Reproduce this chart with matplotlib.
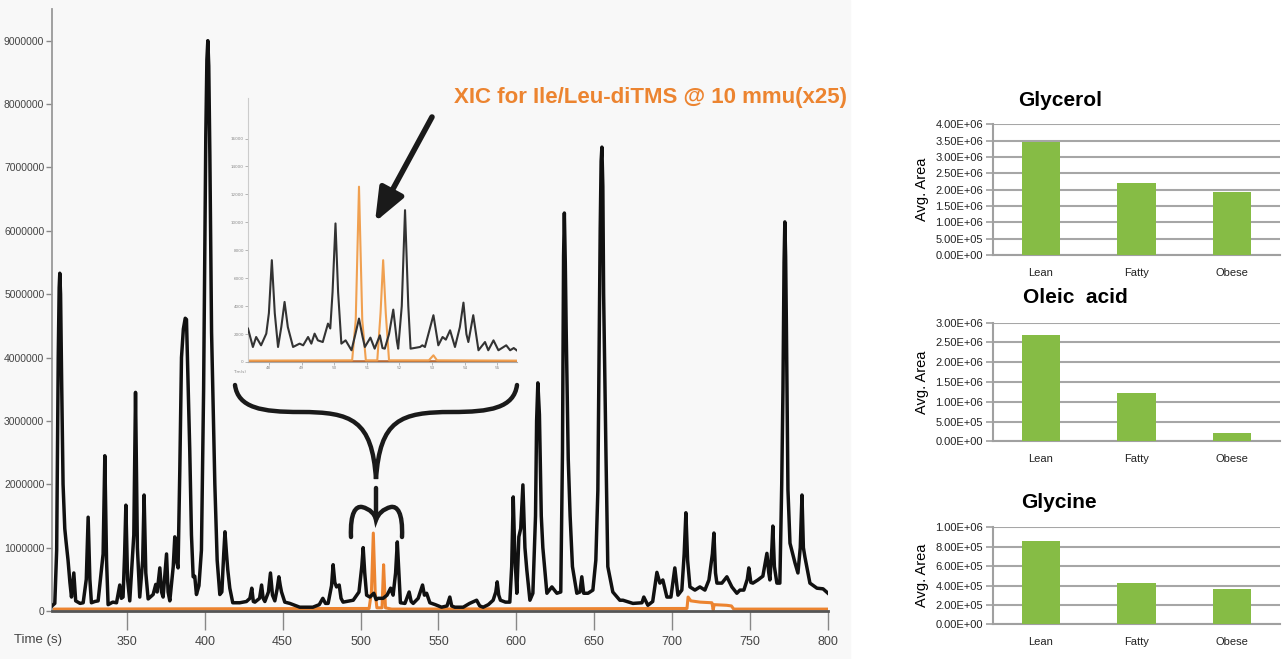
import numpy as np
import matplotlib.pyplot as plt
from matplotlib.path import Path
from matplotlib.patches import PathPatch, Rectangle


# TIC trace, time (s) and intensity (millions of counts)
tic_time = [302.0, 303.8, 305.0, 306.0, 306.6, 307.0, 307.5, 308.2, 309.1, 310.2, 311.0, 312.3,
            313.5, 314.5, 316.0, 317.2, 320.0, 322.0, 324.0, 325.2, 326.3, 327.3, 329.5, 331.6,
            334.8, 335.9, 337.0, 338.0, 341.0, 343.4, 345.5, 346.5, 347.6, 348.6, 349.4, 350.5,
            351.9, 354.5, 355.6, 356.8, 358.3, 360.2, 361.1, 362.2, 363.7, 366.9, 368.6, 369.5,
            371.2, 372.3, 373.3, 375.5, 376.5, 377.6, 379.8, 380.8, 381.8, 382.9, 384.0, 385.1,
            386.3, 387.5, 388.3, 389.3, 390.4, 391.5, 392.6, 393.6, 394.7, 396.3, 397.9, 399.3,
            400.7, 401.4, 402.0, 402.6, 403.3, 404.4, 406.5, 408.0, 409.7, 411.0, 412.2, 413.0,
            414.0, 414.8, 416.1, 418.0, 422.5, 426.8, 429.0, 430.2, 431.2, 432.2, 435.2, 436.5,
            437.5, 438.6, 440.9, 442.2, 443.5, 445.0, 446.5, 447.6, 448.5, 449.3, 451.4, 454.6,
            461.0, 469.4, 473.5, 475.8, 477.5, 479.2, 481.4, 482.4, 483.5, 484.6, 486.3, 487.5,
            488.8, 495.3, 499.0, 500.8, 501.7, 502.7, 503.9, 506.0, 508.5, 510.0, 511.3, 514.5,
            517.0, 519.3, 520.9, 522.5, 523.6, 524.6, 525.6, 528.5, 531.2, 532.5, 533.8, 537.0,
            539.8, 541.0, 542.4, 544.5, 548.0, 552.0, 555.5, 557.3, 558.5, 560.5, 565.9, 570.0,
            574.5, 576.5, 578.7, 582.0, 585.1, 586.8, 587.7, 588.7, 589.8, 593.0, 595.8, 597.0,
            598.0, 599.0, 600.3, 601.6, 602.8, 604.2, 605.5, 606.7, 608.7, 610.6, 612.3, 613.0,
            613.8, 614.8, 616.0, 617.0, 619.6, 622.8, 626.0, 628.5, 629.6, 630.3, 630.8, 631.4,
            632.0, 633.3, 634.5, 636.0, 638.8, 640.8, 642.0, 643.2, 646.0, 649.1, 651.0, 652.3,
            653.8, 654.4, 654.9, 655.5, 656.0, 657.5, 658.7, 661.9, 666.4, 668.4, 674.8, 680.6,
            681.8, 684.4, 687.5, 690.2, 692.1, 694.0, 696.6, 699.2, 701.7, 703.7, 706.2, 707.7,
            708.8, 709.9, 711.4, 714.6, 717.8, 721.0, 723.6, 725.8, 726.8, 727.8, 728.7, 731.9,
            735.1, 738.3, 741.5, 743.5, 746.0, 748.2, 749.2, 750.5, 751.8, 755.0, 758.2, 760.8,
            762.0, 762.7, 764.0, 764.6, 765.6, 767.2, 769.1, 770.3, 771.1, 771.8, 772.3, 772.8,
            773.3, 774.3, 775.6, 778.8, 780.7, 782.2, 783.3, 784.2, 785.2, 788.4, 792.9, 796.8,
            800.0]
tic_int = [0.08, 0.12, 0.96, 4.0, 5.1, 5.33, 5.0, 3.6, 2.0, 1.3, 1.1, 0.8,
           0.45, 0.22, 0.6, 0.16, 0.12, 0.13, 0.5, 1.48, 0.5, 0.13, 0.15, 0.16,
           0.9, 2.45, 0.8, 0.1, 0.14, 0.13, 0.41, 0.2, 0.22, 0.9, 1.67, 0.5,
           0.16, 1.2, 3.45, 1.0, 0.22, 0.8, 1.83, 0.6, 0.19, 0.26, 0.42, 0.3,
           0.68, 0.3, 0.22, 0.9, 0.3, 0.16, 0.7, 1.17, 0.8, 0.68, 2.2, 4.0,
           4.45, 4.62, 4.6, 3.6, 2.54, 1.2, 0.54, 0.55, 0.26, 0.4, 0.96, 3.5,
           7.5, 8.7, 9.0, 8.6, 7.2, 4.4, 2.0, 0.8, 0.26, 0.3, 0.9, 1.25,
           0.9, 0.65, 0.36, 0.13, 0.13, 0.15, 0.2, 0.36, 0.15, 0.14, 0.2, 0.41,
           0.2, 0.15, 0.3, 0.6, 0.25, 0.16, 0.35, 0.54, 0.4, 0.3, 0.14, 0.12,
           0.06, 0.06, 0.1, 0.2, 0.12, 0.12, 0.4, 0.73, 0.45, 0.38, 0.41, 0.2,
           0.14, 0.17, 0.3, 0.7, 1.0, 0.6, 0.25, 0.22, 0.28, 0.18, 0.2, 0.2,
           0.25, 0.36, 0.25, 0.6, 1.09, 0.6, 0.13, 0.12, 0.3, 0.15, 0.12, 0.2,
           0.41, 0.25, 0.28, 0.13, 0.1, 0.06, 0.08, 0.22, 0.08, 0.06, 0.06, 0.12,
           0.17, 0.08, 0.06, 0.1, 0.17, 0.3, 0.46, 0.25, 0.17, 0.14, 0.14, 0.7,
           1.8, 0.9, 0.28, 1.17, 1.3, 1.99, 1.0, 0.65, 0.17, 0.28, 1.5, 3.0,
           3.6, 3.1, 1.5, 1.0, 0.28, 0.38, 0.28, 0.3, 2.5, 5.6, 6.28, 5.5,
           4.4, 2.4, 1.5, 0.7, 0.28, 0.3, 0.54, 0.28, 0.28, 0.33, 0.8, 1.9,
           6.0, 7.1, 7.32, 6.7, 5.0, 2.49, 0.7, 0.3, 0.17, 0.17, 0.12, 0.13,
           0.22, 0.09, 0.15, 0.61, 0.44, 0.49, 0.22, 0.22, 0.68, 0.25, 0.33, 0.9,
           1.55, 0.8, 0.38, 0.33, 0.38, 0.33, 0.49, 0.9, 1.23, 0.6, 0.44, 0.44,
           0.54, 0.38, 0.28, 0.33, 0.33, 0.5, 0.68, 0.45, 0.44, 0.49, 0.55, 0.91,
           0.6, 0.49, 1.0, 1.34, 0.7, 0.44, 0.44, 2.0, 3.5, 5.5, 6.14, 5.6,
           4.5, 1.91, 1.07, 0.76, 0.6, 1.0, 1.83, 1.0, 0.85, 0.44, 0.36, 0.35,
           0.28]

# XIC trace for Ile/Leu-diTMS (x25)
xic_time = [302.0, 505.5, 507.0, 508.2, 509.4, 510.5, 513.8, 514.8, 515.2, 516.0, 520.0,
            709.5, 710.2, 712.0, 718.0, 725.5, 726.3, 727.0, 735.0, 738.0, 739.5, 800.0]
xic_int = [0.03, 0.04, 0.3, 1.23, 0.3, 0.05, 0.05, 0.73, 0.5, 0.05, 0.03,
           0.04, 0.22, 0.16, 0.14, 0.13, 0.02, 0.1, 0.09, 0.08, 0.03, 0.03]

# zoomed inset, both traces
ins_time = [47.36, 47.51, 47.61, 47.76, 47.92, 48.0, 48.09, 48.18, 48.28, 48.38, 48.48, 48.58,
            48.74, 48.94, 49.05, 49.2, 49.3, 49.4, 49.5, 49.65, 49.81, 49.88, 49.95, 50.04,
            50.12, 50.22, 50.35, 50.53, 50.65, 50.76, 50.87, 50.94, 51.11, 51.24, 51.4, 51.48,
            51.55, 51.68, 51.81, 51.92, 51.96, 52.07, 52.17, 52.27, 52.34, 52.63, 52.7, 52.78,
            53.04, 53.19, 53.32, 53.42, 53.55, 53.7, 53.85, 53.96, 54.05, 54.11, 54.26, 54.42,
            54.62, 54.72, 54.88, 55.03, 55.27, 55.39, 55.5, 55.59]
ins_int = [2390, 1075, 1790, 1195, 2030, 3500, 7290, 3500, 1075, 2500, 4300, 2500,
           1075, 1315, 1195, 1790, 1315, 2030, 1550, 1430, 2750, 2400, 5000, 9920,
           5000, 1315, 1550, 840, 2000, 3110, 1800, 1075, 1745, 955, 1910, 1000,
           955, 2000, 3750, 1500, 955, 4000, 10870, 4000, 955, 1075, 1195, 1075,
           3350, 1195, 1790, 1600, 2270, 1075, 2500, 4250, 2000, 1430, 3350, 840,
           1430, 840, 1550, 840, 1195, 840, 1000, 840]
ins_xic_time = [47.36, 50.55, 50.66, 50.76, 50.86, 50.97, 51.32, 51.42, 51.5, 51.58, 51.68,
                52.9, 53.04, 53.15, 55.59]
ins_xic_int = [100, 120, 3000, 12550, 3000, 120, 120, 3500, 7290, 3500, 120,
               120, 480, 120, 100]

# bar panels
groups = ['Lean', 'Fatty', 'Obese']
glycerol = [3.47e6, 2.20e6, 1.92e6]
oleic = [2.69e6, 1.23e6, 0.22e6]
glycine = [0.863e6, 0.423e6, 0.364e6]

W, H = 1283, 659
BLACK = '#111111'
ORANGE = '#ec8430'
GREEN = '#86bc45'
SANS = 'Liberation Sans'


def rect(left, top, right, bottom):
    # pixel box (y down) -> figure fraction
    return [left / W, 1 - bottom / H, (right - left) / W, (bottom - top) / H]


fig = plt.figure(figsize=(W / 100, H / 100), dpi=100)
fig.patches.append(Rectangle((0, 0), 850 / W, 1, transform=fig.transFigure,
                             color='#f8f8f8', zorder=-5))

# main chromatogram
ax = fig.add_axes(rect(52, 9, 828, 611))
ax.set_facecolor('none')
ax.plot(xic_time, np.array(xic_int) * 1e6, color=ORANGE, lw=2.2, zorder=2)
ax.plot(tic_time, np.array(tic_int) * 1e6, color=BLACK, lw=2.5, zorder=3,
        solid_joinstyle='round')
ax.set_xlim(302, 800)
ax.set_ylim(0, 9.5e6)
ax.set_yticks(np.arange(0, 9.1e6, 1e6))
ax.set_yticklabels(['0'] + ['%d' % v for v in np.arange(1000000, 9000001, 1000000)],
                   family=SANS, fontsize=7.5, color='#444444')
ax.set_xticks(np.arange(350, 801, 50))
ax.set_xticklabels([str(v) for v in range(350, 801, 50)],
                   family=SANS, fontsize=9, color='#444444')
ax.tick_params(axis='y', length=4, width=1, color='#888888', pad=1.5)
ax.tick_params(axis='x', length=14, width=1, color='#888888', pad=4)
for s in ['top', 'right']:
    ax.spines[s].set_visible(False)
ax.spines['left'].set_color('#999999')
ax.spines['left'].set_linewidth(1.3)
ax.spines['bottom'].set_color('#555555')
ax.spines['bottom'].set_linewidth(2)
fig.text(38 / W, 1 - 640 / H, 'Time (s)', family=SANS, fontsize=9.5,
         color='#444444', ha='center', va='center')

# inset zoom
ins = fig.add_axes(rect(248, 98, 517, 362))
ins.set_facecolor('none')
ins.plot(ins_xic_time, ins_xic_int, color='#f0a050', lw=1.5, zorder=2)
ins.plot(ins_time, ins_int, color='#333333', lw=1.5, zorder=3, solid_joinstyle='round')
ins.axhline(60, color='#b8642a', lw=1.8, zorder=1)
ins.set_xlim(47.36, 55.6)
ins.set_ylim(0, 18900)
ins.set_yticks(np.arange(0, 16001, 2000))
ins.set_yticklabels([str(v) for v in range(0, 16001, 2000)], fontsize=3, color='#888888')
ins.set_xticks(np.arange(48, 56))
ins.set_xticklabels([str(v) for v in range(48, 56)], fontsize=3, color='#888888')
ins.tick_params(length=2, width=0.6, color='#aaaaaa', pad=1)
for s in ['top', 'right']:
    ins.spines[s].set_visible(False)
ins.spines['left'].set_color('#cccccc')
ins.spines['bottom'].set_color('#aaaaaa')
fig.text(240 / W, 1 - 372 / H, 'Tim(s)', fontsize=3, color='#888888',
         ha='center', va='center')

# annotation overlay in pixel coordinates
ov = fig.add_axes([0, 0, 1, 1])
ov.set_xlim(0, W)
ov.set_ylim(H, 0)
ov.axis('off')
ov.set_facecolor('none')

ov.text(650, 97, 'XIC for Ile/Leu-diTMS @ 10 mmu(x25)', color=ORANGE,
        fontsize=16, fontweight='bold', family=SANS, ha='center', va='center')
ov.annotate('', xy=(375, 222), xytext=(432, 117),
            arrowprops=dict(arrowstyle='-|>,head_width=0.4,head_length=1.0',
                            mutation_scale=20, lw=4, color='#1a1a1a',
                            shrinkA=0, shrinkB=0))

big_brace = Path([(235, 385), (238, 408), (262, 412), (300, 412),
                  (352, 412), (372, 420), (376, 479),
                  (380, 420), (400, 412), (452, 412),
                  (490, 412), (514, 408), (517, 385)],
                 [Path.MOVETO] + [Path.CURVE4] * 12)
ov.add_patch(PathPatch(big_brace, fill=False, lw=3.2, ec='#1a1a1a', capstyle='round'))
ov.plot([376, 376], [488, 519], color='#1a1a1a', lw=3.2, solid_capstyle='round')
small_brace = Path([(351, 537), (350, 512), (356, 506), (362, 507),
                    (370, 509), (375, 514), (376, 520),
                    (378, 514), (383, 509), (391, 507),
                    (397, 506), (403, 512), (402, 537)],
                   [Path.MOVETO] + [Path.CURVE4] * 12)
ov.add_patch(PathPatch(small_brace, fill=False, lw=3.2, ec='#1a1a1a', capstyle='round'))


# bar panels
def bar_panel(box, vals, top, step, title, title_x, title_y):
    b = fig.add_axes(rect(*box))
    b.bar(range(len(groups)), vals, width=0.4, color=GREEN, zorder=3)
    b.set_xlim(-0.5, 2.5)
    b.set_ylim(0, top)
    ticks = np.arange(0, top + step / 2, step)
    b.set_yticks(ticks)
    b.set_yticklabels(['%.2E' % t for t in ticks], family=SANS,
                      fontsize=8, color='#222222')
    b.set_xticks(range(len(groups)))
    b.set_xticklabels(groups, family=SANS, fontsize=8, color='#222222')
    b.tick_params(axis='x', length=0, pad=9)
    b.tick_params(axis='y', length=5, width=1.2, color='#a0a0a0', pad=2)
    b.yaxis.grid(True, color='#a6a6a6', lw=1.5)
    b.set_axisbelow(True)
    for s in ['top', 'right']:
        b.spines[s].set_visible(False)
    for s in ['left', 'bottom']:
        b.spines[s].set_color('#a0a0a0')
        b.spines[s].set_linewidth(1.5)
    b.set_ylabel('Avg. Area', family=SANS, fontsize=10.5, labelpad=5)
    fig.text(title_x / W, 1 - title_y / H, title, family=SANS,
             fontsize=15, fontweight='bold', ha='center', va='center')
    return b


bar_panel((993, 124.3, 1280, 255), glycerol, 4.0e6, 5e5, 'Glycerol', 1060, 100)
bar_panel((993, 322.7, 1280, 441.3), oleic, 3.0e6, 5e5, 'Oleic  acid', 1075, 298)
bar_panel((993, 527.3, 1280, 624.3), glycine, 1.0e6, 2e5, 'Glycine', 1059, 502)

fig.savefig('out.png', dpi=100)
